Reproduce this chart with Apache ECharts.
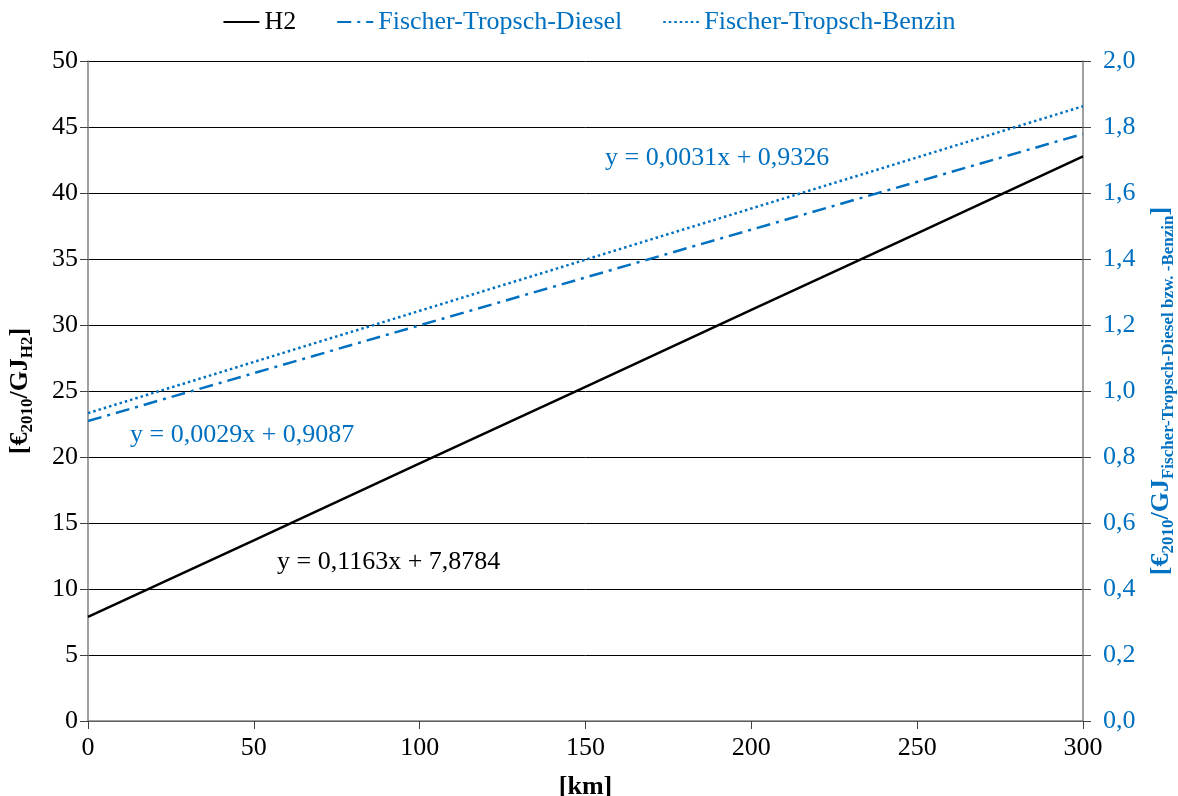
<!DOCTYPE html>
<html>
<head>
<meta charset="utf-8">
<script src="https://cdn.jsdelivr.net/npm/echarts@6/dist/echarts.min.js"></script>
<style>
  html, body { margin: 0; padding: 0; background: #fff; }
  #chart { width: 1178px; height: 796px; }
</style>
</head>
<body>
<div id="chart"></div>
<script>
// Transport distance [km]
const distances = [0, 50, 100, 150, 200, 250, 300];
// Costs for hydrogen [€2010/GJ H2]
const h2Costs = [7.88, 13.69, 19.51, 25.32, 31.14, 36.95, 42.77];
// Costs for Fischer-Tropsch fuels [€2010/GJ]
const ftDieselCosts = [0.909, 1.054, 1.199, 1.344, 1.489, 1.634, 1.779];
const ftBenzinCosts = [0.933, 1.088, 1.243, 1.398, 1.553, 1.708, 1.863];
// Trend line equations
const eqH2 = 'y = 0,1163x + 7,8784';
const eqDiesel = 'y = 0,0029x + 0,9087';
const eqBenzin = 'y = 0,0031x + 0,9326';

const FONT = '"Liberation Serif", "DejaVu Serif", serif';
const BLUE = '#0070C0';
const FS = 26;

const pairs = (xs, ys) => xs.map((x, i) => [x, ys[i]]);

const chart = echarts.init(document.getElementById('chart'));
chart.setOption({
  animation: false,
  textStyle: { fontFamily: FONT },
  grid: { left: 88, right: 95, top: 61, bottom: 75, outerBoundsMode: 'none', containLabel: false },
  legend: {
    top: 4,
    left: 'center',
    itemWidth: 36,
    itemHeight: 14,
    itemGap: 40,
    itemStyle: { opacity: 0 },
    textStyle: { fontFamily: FONT, fontSize: FS, color: BLUE },
    data: [
      { name: 'H2', textStyle: { color: '#000' } },
      { name: 'Fischer-Tropsch-Diesel' },
      { name: 'Fischer-Tropsch-Benzin' }
    ]
  },
  xAxis: {
    type: 'value',
    min: 0, max: 300, interval: 50,
    name: '[km]',
    nameLocation: 'middle',
    nameGap: 53,
    nameTextStyle: { fontFamily: FONT, fontSize: FS, fontWeight: 'bold', color: '#000' },
    axisLine: { onZero: false, lineStyle: { color: '#808080', width: 1.5 } },
    axisTick: { show: true, length: 8, lineStyle: { color: '#404040' } },
    axisLabel: { fontFamily: FONT, fontSize: FS, color: '#000', margin: 14 },
    splitLine: { show: false }
  },
  yAxis: [
    {
      type: 'value',
      min: 0, max: 50, interval: 5,
      name: '{m|[€}{s|2010}{m|/GJ}{s|H2}{m|]}',
      nameLocation: 'middle',
      nameRotate: 90,
      nameGap: 52,
      nameTextStyle: {
        rich: {
          m: { fontFamily: FONT, fontSize: FS, fontWeight: 'bold', color: '#000' },
          s: { fontFamily: FONT, fontSize: 17, fontWeight: 'bold', color: '#000', padding: [14, 0, 0, 0] }
        }
      },
      axisLine: { show: true, lineStyle: { color: '#808080', width: 1.5 } },
      axisTick: { show: true, length: 8, lineStyle: { color: '#404040' } },
      axisLabel: { fontFamily: FONT, fontSize: FS, color: '#000', margin: 10 },
      splitLine: { show: true, lineStyle: { color: '#000', width: 1 } }
    },
    {
      type: 'value',
      min: 0, max: 2.0, interval: 0.2,
      position: 'right',
      name: '{m|[€}{s|2010}{m|/GJ}{s|Fischer-Tropsch-Diesel bzw. -Benzin}{m|]}',
      nameLocation: 'middle',
      nameRotate: 90,
      nameGap: 63,
      nameTextStyle: {
        rich: {
          m: { fontFamily: FONT, fontSize: FS, fontWeight: 'bold', color: BLUE },
          s: { fontFamily: FONT, fontSize: 17, fontWeight: 'bold', color: BLUE, padding: [14, 0, 0, 0] }
        }
      },
      axisLine: { show: true, lineStyle: { color: '#808080', width: 1.5 } },
      axisTick: { show: true, length: 8, lineStyle: { color: '#404040' } },
      axisLabel: {
        fontFamily: FONT, fontSize: FS, color: BLUE, margin: 20,
        formatter: v => v.toFixed(1).replace('.', ',')
      },
      splitLine: { show: false }
    }
  ],
  series: [
    {
      name: 'H2',
      type: 'line',
      yAxisIndex: 0,
      data: pairs(distances, h2Costs),
      symbol: 'none',
      lineStyle: { color: '#000', width: 2.5, type: 'solid' },
      itemStyle: { color: '#000' },
      z: 3
    },
    {
      name: 'Fischer-Tropsch-Diesel',
      type: 'line',
      yAxisIndex: 1,
      data: pairs(distances, ftDieselCosts),
      symbol: 'none',
      lineStyle: { color: BLUE, width: 2.5, type: [14, 6, 3, 6] },
      itemStyle: { color: BLUE },
      z: 3
    },
    {
      name: 'Fischer-Tropsch-Benzin',
      type: 'line',
      yAxisIndex: 1,
      data: pairs(distances, ftBenzinCosts),
      symbol: 'none',
      lineStyle: { color: BLUE, width: 2.5, type: [2.5, 3] },
      itemStyle: { color: BLUE },
      z: 3
    }
  ],
  graphic: [
    { type: 'text', left: 605, top: 145, style: { text: eqBenzin, fontFamily: FONT, fontSize: FS, fill: BLUE } },
    { type: 'text', left: 130, top: 422, style: { text: eqDiesel, fontFamily: FONT, fontSize: FS, fill: BLUE } },
    { type: 'text', left: 277, top: 549, style: { text: eqH2, fontFamily: FONT, fontSize: FS, fill: '#000' } }
  ]
});
</script>
</body>
</html>
